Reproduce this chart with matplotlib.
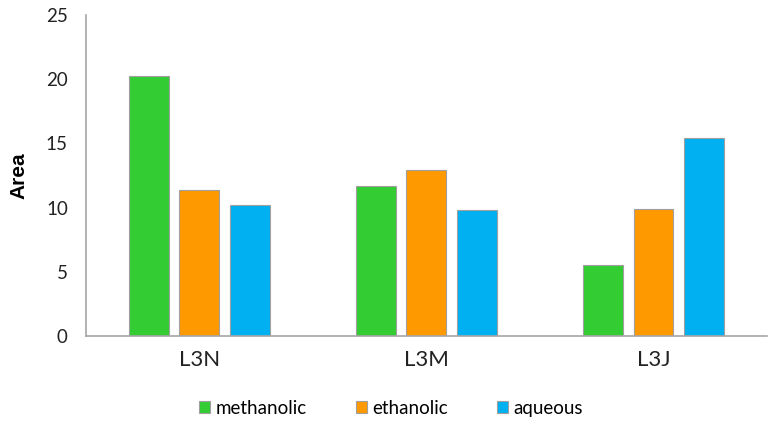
import numpy as np
import matplotlib.pyplot as plt

groups = ['L3N', 'L3M', 'L3J']
series = ['methanolic', 'ethanolic', 'aqueous']
methanolic = [20.25, 11.68, 5.55]
ethanolic = [11.37, 12.9, 9.92]
aqueous = [10.2, 9.79, 15.4]
colors = ['#33CC33', '#FF9900', '#00B0F0']

plt.rcParams['font.family'] = ['Lato', 'DejaVu Sans']

fig = plt.figure(figsize=(7.74, 4.25), dpi=100)
ax = fig.add_axes([0.111, 0.209, 0.88, 0.756])

x = np.arange(len(groups))
w = 0.176
step = 0.222
for i, (vals, name) in enumerate(zip([methanolic, ethanolic, aqueous], series)):
    ax.bar(x + (i - 1) * step, vals, w, color=colors[i], edgecolor='#a0a0a0',
           linewidth=0.8, label=name)

ax.set_xlim(-0.5, 2.5)
ax.set_ylim(0, 25)
ax.set_yticks([0, 5, 10, 15, 20, 25])
ax.set_xticks(x)
ax.set_xticklabels(groups, fontsize=16)
ax.tick_params(axis='y', labelsize=13.5, length=0, pad=13, colors='#222222')
ax.tick_params(axis='x', length=0, pad=10, colors='#222222')
for s in ['top', 'right']:
    ax.spines[s].set_visible(False)
for s in ['left', 'bottom']:
    ax.spines[s].set_color('#a6a6a6')
    ax.spines[s].set_linewidth(1.2)

ax.set_ylabel('Area', fontsize=15, fontweight='bold', family='Liberation Sans')
ax.yaxis.set_label_coords(-0.085, 0.5)

ax.legend(loc='center', bbox_to_anchor=(0.448, -0.225), ncol=3, frameon=False,
          fontsize=13.5, handlelength=0.6, handleheight=0.6, handletextpad=0.3,
          columnspacing=2.6)

fig.savefig('out.png', dpi=100)
